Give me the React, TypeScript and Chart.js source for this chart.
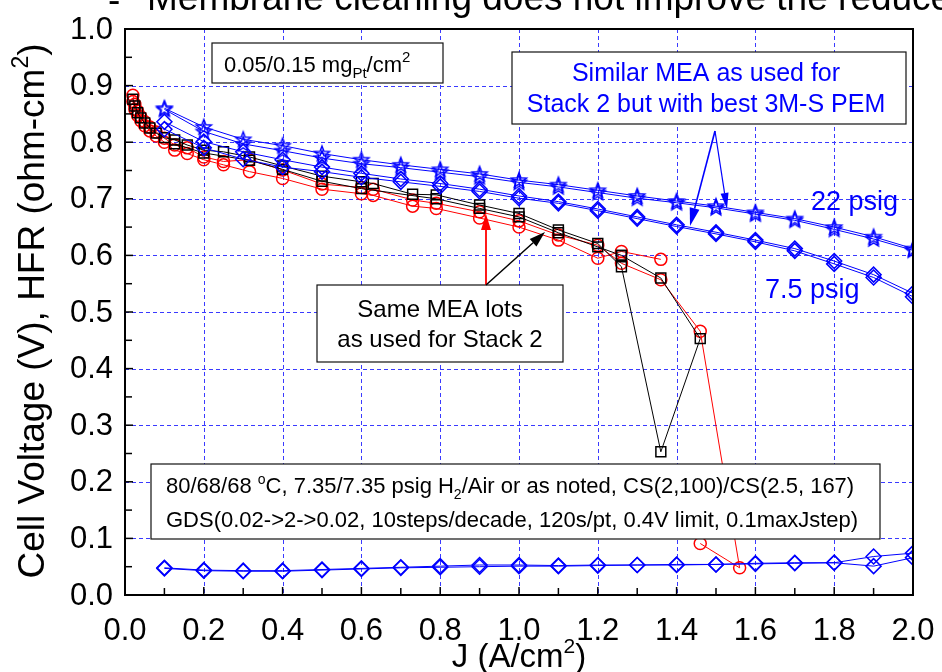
import React, { useEffect, useRef } from "react";
import { Chart, registerables } from "chart.js";

Chart.register(...registerables);

// ---------- data ----------
const J_STEP = [0.1, 0.2, 0.3, 0.4, 0.5, 0.6, 0.7, 0.8, 0.9, 1.0, 1.1, 1.2, 1.3, 1.4, 1.5, 1.6, 1.7, 1.8, 1.9, 2.0];

const STAR_22A = [0.860, 0.827, 0.805, 0.794, 0.780, 0.769, 0.760, 0.752, 0.744, 0.733, 0.725, 0.715, 0.705, 0.696, 0.687, 0.676, 0.665, 0.650, 0.633, 0.612];
const STAR_22B = [0.858, 0.819, 0.797, 0.785, 0.772, 0.762, 0.755, 0.747, 0.739, 0.729, 0.721, 0.711, 0.701, 0.693, 0.684, 0.673, 0.662, 0.646, 0.629, 0.609];

const DIAMOND_75A = [0.836, 0.801, 0.783, 0.769, 0.756, 0.745, 0.735, 0.727, 0.717, 0.705, 0.695, 0.682, 0.668, 0.654, 0.641, 0.627, 0.612, 0.590, 0.566, 0.533];
const DIAMOND_75B = [0.823, 0.790, 0.770, 0.756, 0.748, 0.738, 0.730, 0.722, 0.713, 0.701, 0.692, 0.679, 0.665, 0.651, 0.638, 0.624, 0.608, 0.585, 0.561, 0.527];

const HFR_75A = [0.048, 0.044, 0.043, 0.043, 0.045, 0.047, 0.049, 0.051, 0.053, 0.053, 0.052, 0.053, 0.053, 0.054, 0.054, 0.056, 0.057, 0.057, 0.068, 0.074];
const HFR_75B = [0.047, 0.043, 0.042, 0.042, 0.044, 0.046, 0.048, 0.049, 0.050, 0.051, 0.051, 0.052, 0.053, 0.053, 0.054, 0.055, 0.056, 0.057, 0.051, 0.066];

const BLACK_J = [0.02, 0.025, 0.032, 0.04, 0.05, 0.063, 0.079, 0.1, 0.126, 0.158, 0.2, 0.25, 0.316, 0.4, 0.5, 0.6, 0.63, 0.73, 0.79, 0.9, 1.0, 1.1, 1.2, 1.26, 1.36, 1.46, 1.36, 1.26];
const BLACK_V = [0.876, 0.864, 0.852, 0.843, 0.834, 0.825, 0.816, 0.808, 0.804, 0.795, 0.786, 0.783, 0.774, 0.758, 0.740, 0.730, 0.727, 0.708, 0.707, 0.689, 0.674, 0.645, 0.621, 0.580, 0.253, 0.453, 0.560, 0.600];

const BLACK2_J = [1.26, 1.2, 1.1, 1.0, 0.9, 0.79, 0.6, 0.5, 0.4, 0.316, 0.2, 0.126];
const BLACK2_V = [0.600, 0.615, 0.640, 0.668, 0.683, 0.700, 0.718, 0.731, 0.752, 0.768, 0.781, 0.797];

const RED1_J = [0.02, 0.025, 0.032, 0.04, 0.05, 0.063, 0.079, 0.1, 0.126, 0.158, 0.2, 0.25, 0.316, 0.4, 0.5, 0.6, 0.63, 0.73, 0.79, 0.9, 1.0, 1.1, 1.2, 1.26, 1.36, 1.46, 1.56, 1.46];
const RED1_V = [0.883, 0.867, 0.855, 0.845, 0.836, 0.827, 0.818, 0.807, 0.795, 0.790, 0.774, 0.766, 0.769, 0.751, 0.726, 0.720, 0.717, 0.698, 0.692, 0.677, 0.661, 0.636, 0.618, 0.586, 0.557, 0.466, 0.048, 0.091];

const RED2_J = [0.02, 0.025, 0.032, 0.04, 0.05, 0.063, 0.079, 0.1, 0.126, 0.158, 0.2, 0.25, 0.316, 0.4, 0.5, 0.6, 0.63, 0.73, 0.79, 0.9, 1.0, 1.1, 1.2, 1.26, 1.36];
const RED2_V = [0.872, 0.858, 0.847, 0.838, 0.829, 0.820, 0.811, 0.800, 0.786, 0.780, 0.769, 0.760, 0.748, 0.736, 0.717, 0.709, 0.706, 0.687, 0.683, 0.666, 0.650, 0.627, 0.595, 0.607, 0.593];

const X_TICKS = [0.0, 0.2, 0.4, 0.6, 0.8, 1.0, 1.2, 1.4, 1.6, 1.8, 2.0];
const Y_TICKS = [0.0, 0.1, 0.2, 0.3, 0.4, 0.5, 0.6, 0.7, 0.8, 0.9, 1.0];

// ---------- helpers ----------
const FONT = '"Liberation Sans", Arial, sans-serif';
const BLUE = "#0000ff";
const RED = "#ff0000";

const pts = (xs: number[], ys: number[]) => xs.map((x, i) => ({ x, y: ys[i] }));

function makeStar(color: string, R: number, r: number) {
  const size = Math.ceil(R * 2 + 4);
  const c = document.createElement("canvas");
  c.width = size;
  c.height = size;
  const ctx = c.getContext("2d")!;
  ctx.strokeStyle = color;
  ctx.lineWidth = 1.4;
  ctx.beginPath();
  for (let i = 0; i < 10; i++) {
    const a = -Math.PI / 2 + (i * Math.PI) / 5;
    const rad = i % 2 === 0 ? R : r;
    const x = size / 2 + rad * Math.cos(a);
    const y = size / 2 + 0.5 + rad * Math.sin(a);
    if (i === 0) ctx.moveTo(x, y);
    else ctx.lineTo(x, y);
  }
  ctx.closePath();
  ctx.stroke();
  return c;
}

type Part = { t: string; size: number; dy?: number };

function richWidth(ctx: CanvasRenderingContext2D, parts: Part[]) {
  let w = 0;
  for (const p of parts) {
    ctx.font = `${p.size}px ${FONT}`;
    w += ctx.measureText(p.t).width;
  }
  return w;
}

function drawRich(ctx: CanvasRenderingContext2D, parts: Part[], x: number, y: number, align: "left" | "center" = "left") {
  let cx = x;
  if (align === "center") cx = x - richWidth(ctx, parts) / 2;
  ctx.textAlign = "left";
  ctx.textBaseline = "alphabetic";
  for (const p of parts) {
    ctx.font = `${p.size}px ${FONT}`;
    ctx.fillText(p.t, cx, y + (p.dy || 0));
    cx += ctx.measureText(p.t).width;
  }
}

function drawArrow(ctx: CanvasRenderingContext2D, x1: number, y1: number, x2: number, y2: number, color: string, lw = 1.5, hl = 16, hw = 5) {
  const ang = Math.atan2(y2 - y1, x2 - x1);
  const bx = x2 - hl * Math.cos(ang);
  const by = y2 - hl * Math.sin(ang);
  ctx.save();
  ctx.strokeStyle = color;
  ctx.fillStyle = color;
  ctx.lineWidth = lw;
  ctx.beginPath();
  ctx.moveTo(x1, y1);
  ctx.lineTo(bx, by);
  ctx.stroke();
  ctx.beginPath();
  ctx.moveTo(x2, y2);
  ctx.lineTo(bx + hw * Math.sin(ang), by - hw * Math.cos(ang));
  ctx.lineTo(bx - hw * Math.sin(ang), by + hw * Math.cos(ang));
  ctx.closePath();
  ctx.fill();
  ctx.restore();
}

function box(ctx: CanvasRenderingContext2D, x: number, y: number, w: number, h: number) {
  ctx.save();
  ctx.fillStyle = "#ffffff";
  ctx.fillRect(x, y, w, h);
  ctx.strokeStyle = "#111";
  ctx.lineWidth = 1.2;
  ctx.strokeRect(x, y, w, h);
  ctx.restore();
}

const decorPlugin = {
  id: "decor",
  beforeDatasetsDraw(chart: any) {
    const { ctx, chartArea: a, scales } = chart;
    const xs = scales.x, ys = scales.y;
    ctx.save();
    ctx.strokeStyle = "#3a3aff";
    ctx.lineWidth = 1;
    ctx.setLineDash([4, 3]);
    for (const v of X_TICKS.slice(1, -1)) {
      const px = Math.round(xs.getPixelForValue(v)) + 0.5;
      ctx.beginPath();
      ctx.moveTo(px, a.top);
      ctx.lineTo(px, a.bottom);
      ctx.stroke();
    }
    for (const v of Y_TICKS.slice(1, -1)) {
      const py = Math.round(ys.getPixelForValue(v)) + 0.5;
      ctx.beginPath();
      ctx.moveTo(a.left, py);
      ctx.lineTo(a.right, py);
      ctx.stroke();
    }
    ctx.restore();
  },
  afterDatasetsDraw(chart: any) {
    const { ctx, chartArea: a, scales } = chart;
    const xs = scales.x, ys = scales.y;
    ctx.save();

    // ---- annotation boxes ----
    box(ctx, 212, 43, 231, 40);
    ctx.fillStyle = "#000";
    drawRich(ctx, [
      { t: "0.05/0.15 mg", size: 22 },
      { t: "Pt", size: 15, dy: 6 },
      { t: "/cm", size: 22 },
      { t: "2", size: 15, dy: -10 },
    ], 224, 72);

    box(ctx, 512, 52, 394, 72);
    ctx.fillStyle = BLUE;
    ctx.font = `25px ${FONT}`;
    ctx.textAlign = "center";
    ctx.textBaseline = "alphabetic";
    ctx.fillText("Similar MEA as used for", 706, 81);
    ctx.fillText("Stack 2 but with best 3M-S PEM", 706, 112);
    drawArrow(ctx, 715, 131, 690, 226, BLUE, 1.6, 18, 5);
    drawArrow(ctx, 715, 131, 727, 209, BLUE, 1.2, 16, 4);

    ctx.fillStyle = BLUE;
    ctx.font = `27px ${FONT}`;
    ctx.textAlign = "left";
    ctx.fillText("22 psig", 811, 210);
    ctx.fillText("7.5 psig", 765, 298);

    box(ctx, 317, 285, 246, 77);
    ctx.fillStyle = "#000";
    ctx.font = `24px ${FONT}`;
    ctx.textAlign = "center";
    ctx.fillText("Same MEA lots", 440, 317);
    ctx.fillText("as used for Stack 2", 440, 347);
    drawArrow(ctx, 486, 285, 486, 214, RED, 1.8, 16, 5);
    drawArrow(ctx, 486, 285, 545, 232, "#000", 1.5, 16, 5);

    box(ctx, 151, 464, 729, 75);
    ctx.fillStyle = "#000";
    drawRich(ctx, [
      { t: "80/68/68 ", size: 22 },
      { t: "o", size: 14, dy: -9 },
      { t: "C, 7.35/7.35 psig H", size: 22 },
      { t: "2", size: 14, dy: 6 },
      { t: "/Air or as noted, CS(2,100)/CS(2.5, 167)", size: 22 },
    ], 166, 493);
    drawRich(ctx, [{ t: "GDS(0.02->2->0.02, 10steps/decade, 120s/pt, 0.4V limit, 0.1maxJstep)", size: 22 }], 166, 527);

    // ---- ticks ----
    ctx.strokeStyle = "#000";
    ctx.lineWidth = 1.5;
    ctx.setLineDash([]);
    for (let i = 0; i <= 20; i++) {
      const px = xs.getPixelForValue(i * 0.1);
      ctx.beginPath();
      ctx.moveTo(px, a.bottom);
      ctx.lineTo(px, a.bottom - (i % 2 === 0 ? 8 : 7));
      ctx.stroke();
    }
    for (let i = 0; i <= 20; i++) {
      const py = ys.getPixelForValue(i * 0.05);
      ctx.beginPath();
      ctx.moveTo(a.left, py);
      ctx.lineTo(a.left + (i % 2 === 0 ? 8 : 7), py);
      ctx.stroke();
    }

    // ---- frame ----
    ctx.lineWidth = 2;
    ctx.strokeRect(a.left, a.top, a.right - a.left, a.bottom - a.top);

    // ---- tick labels ----
    ctx.fillStyle = "#000";
    ctx.font = `31px ${FONT}`;
    ctx.textAlign = "right";
    ctx.textBaseline = "middle";
    for (const v of Y_TICKS) {
      ctx.fillText(v.toFixed(1), a.left - 12, ys.getPixelForValue(v) + 1);
    }
    ctx.textAlign = "center";
    ctx.textBaseline = "alphabetic";
    for (const v of X_TICKS) {
      ctx.fillText(v.toFixed(1), xs.getPixelForValue(v), 640);
    }

    // ---- axis titles ----
    drawRich(ctx, [
      { t: "J (A/cm", size: 33 },
      { t: "2", size: 21, dy: -14 },
      { t: ")", size: 33 },
    ], (a.left + a.right) / 2, 667, "center");

    ctx.save();
    ctx.translate(44, 311);
    ctx.rotate(-Math.PI / 2);
    drawRich(ctx, [
      { t: "Cell Voltage (V), HFR (ohm-cm", size: 37 },
      { t: "2", size: 23, dy: -16 },
      { t: ")", size: 37 },
    ], 0, 0, "center");
    ctx.restore();

    // ---- cut-off heading ----
    ctx.fillStyle = "#000";
    ctx.font = `37px ${FONT}`;
    ctx.textAlign = "left";
    ctx.fillText("-", 108, 12);
    ctx.fillText("Membrane cleaning does not improve the reduced", 147, 10);

    ctx.restore();
  },
};

export default function App() {
  const ref = useRef<HTMLCanvasElement | null>(null);

  useEffect(() => {
    if (!ref.current) return;
    const star = makeStar(BLUE, 8, 3.4);
    const lineDs = (label: string, data: any[], color: string, style: any, radius: number) => ({
      label,
      data,
      showLine: true,
      borderColor: color,
      borderWidth: 1,
      pointStyle: style,
      pointRadius: radius,
      pointHoverRadius: radius,
      pointBorderColor: color,
      pointBackgroundColor: "rgba(0,0,0,0)",
      pointBorderWidth: 1.5,
    });
    const chart = new Chart(ref.current, {
      type: "scatter",
      data: {
        datasets: [
          lineDs("HFR 7.5 psig A", pts(J_STEP, HFR_75A), BLUE, "rectRot", 7.5),
          lineDs("HFR 7.5 psig B", pts(J_STEP, HFR_75B), BLUE, "rectRot", 7.5),
          lineDs("7.5 psig A", pts(J_STEP, DIAMOND_75A), BLUE, "rectRot", 7.5),
          lineDs("7.5 psig B", pts(J_STEP, DIAMOND_75B), BLUE, "rectRot", 7.5),
          lineDs("22 psig A", pts(J_STEP, STAR_22A), BLUE, star, 7),
          lineDs("22 psig B", pts(J_STEP, STAR_22B), BLUE, star, 7),
          lineDs("Stack 2 lot A", pts(BLACK_J, BLACK_V), "#000000", "rect", 7),
          lineDs("Stack 2 lot A back", pts(BLACK2_J, BLACK2_V), "#000000", "rect", 7),
          lineDs("Stack 2 lot B", pts(RED1_J, RED1_V), RED, "circle", 6),
          lineDs("Stack 2 lot C", pts(RED2_J, RED2_V), RED, "circle", 6),
        ],
      },
      options: {
        animation: false,
        responsive: true,
        maintainAspectRatio: false,
        devicePixelRatio: 1,
        layout: { padding: { left: 125, right: 29, top: 29, bottom: 77 } },
        plugins: { legend: { display: false }, tooltip: { enabled: false } },
        events: [],
        scales: {
          x: { type: "linear", min: 0, max: 2, display: false },
          y: { type: "linear", min: 0, max: 1, display: false },
        },
      },
      plugins: [decorPlugin],
    });
    return () => chart.destroy();
  }, []);

  return (
    <div style={{ position: "absolute", left: 0, top: 0, width: 942, height: 672, background: "#ffffff" }}>
      <canvas ref={ref} />
    </div>
  );
}
